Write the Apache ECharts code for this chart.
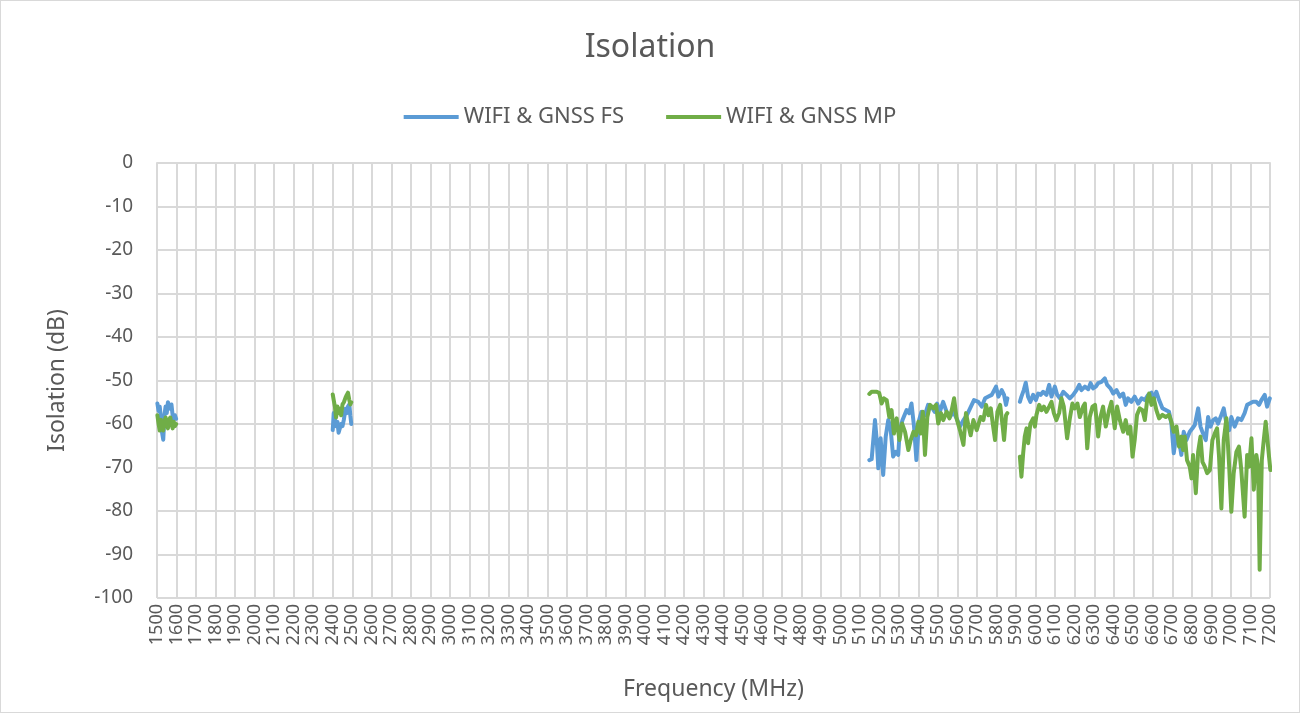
<!DOCTYPE html>
<html>
<head>
<meta charset="utf-8">
<script src="https://cdn.jsdelivr.net/npm/echarts@6/dist/echarts.min.js"></script>
<style>
  html, body { margin: 0; padding: 0; background: #fff; }
  #chart { width: 1298px; height: 711px; border: 1px solid #d9d9d9; }
</style>
</head>
<body>
<div id="chart"></div>
<script>
  // frequency (MHz) / isolation (dB), null = gap between measured bands
  const freqFS = [
    1502, 1508, 1514, 1520, 1526, 1532, 1538, 1544, 1550, 1556, 1562, 1568, 1574, 1580, 1586, 1592, 1598, 2000,
    2400, 2405, 2411, 2417, 2424, 2430, 2437, 2443, 2450, 2457, 2465, 2472, 2478, 2485, 2490, 2495, 3500,
    5148, 5160, 5177, 5186, 5194, 5206, 5219, 5232, 5245, 5256, 5270, 5284, 5296, 5304, 5318, 5339, 5352, 5364,
    5377, 5389, 5403, 5415, 5432, 5449, 5466, 5483, 5495, 5509, 5526, 5544, 5561, 5578, 5595, 5612, 5630, 5647,
    5664, 5684, 5706, 5724, 5741, 5758, 5775, 5797, 5809, 5826, 5838, 5848, 5855, 5890,
    5919, 5927, 5939, 5949, 5961, 5973, 5987, 6001, 6013, 6025, 6038, 6055, 6069, 6081, 6098, 6110, 6124, 6141,
    6158, 6175, 6192, 6209, 6223, 6234, 6252, 6269, 6281, 6294, 6308, 6320, 6337, 6354, 6366, 6383, 6397, 6414,
    6431, 6448, 6461, 6473, 6490, 6507, 6525, 6542, 6559, 6576, 6593, 6605, 6618, 6632, 6649, 6666, 6683, 6695,
    6707, 6721, 6734, 6746, 6758, 6772, 6789, 6803, 6815, 6832, 6844, 6857, 6871, 6883, 6895, 6909, 6922, 6934,
    6951, 6963, 6977, 6991, 7002, 7019, 7036, 7053, 7070, 7083, 7096, 7113, 7130, 7144, 7156, 7173, 7185, 7199
  ];
  const valFS = [
    -55.3, -57, -56, -58.5, -62, -63.6, -58, -56, -57.5, -55, -54.8, -56.5, -55.5, -58, -59, -58, -58.8, null,
    -61.4, -57.5, -59, -60.5, -59.5, -62, -62.4, -60, -60.5, -59, -56.5, -57.5, -56, -55.5, -58, -60, null,
    -68.3, -68.1, -59.1, -63.7, -70.2, -63.3, -71.7, -62.9, -59.1, -60.6, -67.5, -66.4, -67.1, -61.4, -59.1, -56.8, -57.5, -55.3,
    -60.6, -68.3, -59.1, -57.2, -58, -55.6, -56, -57.2, -55.3, -57.2, -54.9, -57.2, -58.4, -57.2, -58.7, -60.6, -59.1, -58,
    -56.4, -54.5, -54.9, -56, -54.1, -53.7, -53.3, -51.4, -53.7, -52.2, -53.3, -55.6, -54.1, null,
    -54.9, -53.7, -52.2, -50.5, -53.7, -54.9, -53.3, -54.5, -53, -53.3, -52.6, -53.3, -51, -53.7, -51.4, -53.3, -54.1, -52.6,
    -53.3, -54.1, -53.3, -52.2, -51, -52.2, -51.4, -52, -50.6, -51.8, -51.4, -50.6, -50.3, -49.5, -51, -51.8, -53, -52.2,
    -53.7, -53, -55.6, -54.1, -54.9, -53.7, -55.3, -54.1, -54.5, -53.3, -52.8, -54.1, -52.6, -54.5, -56.4, -56.8, -57.2, -59.9,
    -66.7, -62.2, -63.7, -67.1, -61.8, -63.7, -61.8, -61, -60.2, -56.4, -60.6, -62.2, -63.7, -58.4, -60.6, -59.1, -58.7, -59.9,
    -57.9, -56.4, -59.9, -61.4, -58.4, -60.6, -58.7, -59.1, -57.5, -55.6, -55.3, -54.9, -54.9, -55.6, -54.5, -53.3, -56, -54.1
  ];

  const freqMP = [
    1502, 1508, 1514, 1520, 1526, 1532, 1538, 1544, 1550, 1556, 1562, 1568, 1574, 1580, 1586, 1592, 1598, 2000,
    2400, 2405, 2411, 2417, 2424, 2430, 2437, 2443, 2450, 2457, 2465, 2472, 2478, 2485, 2490, 2495, 3500,
    5148, 5160, 5186, 5199, 5211, 5223, 5237, 5250, 5262, 5274, 5288, 5302, 5316, 5331, 5348, 5360, 5374, 5387,
    5399, 5411, 5422, 5433, 5445, 5459, 5476, 5490, 5501, 5515, 5527, 5544, 5558, 5570, 5582, 5595, 5612, 5630,
    5643, 5655, 5667, 5681, 5698, 5718, 5732, 5746, 5758, 5770, 5780, 5792, 5804, 5818, 5831, 5838, 5848, 5855, 5890,
    5919, 5927, 5936, 5944, 5953, 5961, 5973, 5987, 5996, 6004, 6018, 6030, 6042, 6055, 6069, 6081, 6093, 6106,
    6120, 6132, 6144, 6161, 6175, 6188, 6200, 6214, 6226, 6243, 6252, 6264, 6277, 6291, 6304, 6320, 6332, 6345,
    6359, 6376, 6388, 6405, 6417, 6431, 6448, 6461, 6473, 6485, 6496, 6507, 6519, 6533, 6547, 6559, 6571, 6581,
    6593, 6605, 6618, 6632, 6649, 6666, 6683, 6695, 6707, 6721, 6734, 6746, 6755, 6764, 6775, 6789, 6798, 6806,
    6820, 6832, 6844, 6854, 6866, 6878, 6892, 6905, 6917, 6929, 6939, 6951, 6963, 6977, 6991, 7002, 7014, 7028,
    7041, 7053, 7070, 7083, 7093, 7105, 7117, 7130, 7139, 7147, 7158, 7168, 7178, 7187, 7195, 7202
  ];
  const valMP = [
    -58, -60, -61.5, -59, -60.5, -61.5, -59.5, -58.5, -60, -61, -59, -58.5, -60, -61, -59.5, -60.5, -60, null,
    -53.2, -54.5, -56, -58.5, -56, -57.5, -56.5, -58, -55.5, -55, -54, -53.3, -52.8, -54.5, -55.5, -55, null,
    -53.1, -52.6, -52.6, -52.9, -55.3, -54.1, -54.5, -58.4, -56.8, -62.2, -58.7, -63.7, -59.9, -61.8, -66, -63.7, -61.8, -62.6,
    -59.5, -62.2, -57.2, -67.1, -58.4, -55.6, -56.4, -55.6, -59.9, -57.5, -59.1, -57.2, -58.7, -56.8, -54.1, -58.7, -61.4, -64.8,
    -57.5, -60.2, -62.6, -59.1, -61.4, -58.4, -59.1, -55.6, -58, -56.4, -59.9, -63.7, -57.2, -55.6, -60.6, -63.7, -58, -57.5, null,
    -67.5, -72.1, -66.7, -62.9, -61, -64.4, -59.9, -58.7, -60.6, -57.9, -55.6, -56.8, -56, -57.2, -56, -54.9, -57.5, -59.1,
    -57.5, -54.1, -56, -63.3, -58.7, -55.3, -56.4, -55.3, -58.4, -56, -55.3, -65.6, -58.4, -56, -55.6, -62.9, -58.4, -56,
    -60.6, -56.8, -54.9, -61, -56, -59.1, -61.8, -59.1, -62.2, -60.6, -67.5, -63.7, -57.9, -56.4, -56.8, -59.1, -54.5, -53,
    -55.6, -54.1, -56.8, -58.7, -57.9, -58.4, -57.9, -59.5, -61.8, -60.6, -65.2, -62.9, -66, -62.9, -68.3, -69.8, -72.5, -67.1,
    -75.9, -66.4, -62.9, -68.7, -69.8, -71.3, -70.6, -63.7, -62.2, -61, -67.5, -79.4, -63.7, -58.7, -69.8, -80.2, -71.3, -66.4,
    -65.2, -70.6, -81.3, -67.1, -69.8, -63.3, -75.1, -67.1, -69.8, -93.5, -68.3, -63.7, -59.5, -63.7, -67.5, -70.6
  ];

  const seriesNames = ['WIFI & GNSS FS', 'WIFI & GNSS MP'];

  function pairs(xs, ys) {
    return xs.map((x, i) => [x, ys[i] === null ? '-' : ys[i]]);
  }

  const chart = echarts.init(document.getElementById('chart'));
  const textColor = '#595959';
  const fontFam = '"Noto Sans", "Noto Sans CJK SC", sans-serif';

  const option = {
    animation: false,
    textStyle: { fontFamily: fontFam },
    title: {
      text: 'Isolation',
      left: 'center',
      top: 26,
      textStyle: { fontSize: 32, fontWeight: 'normal', color: textColor, fontFamily: fontFam }
    },
    legend: {
      data: seriesNames,
      top: 100,
      left: 'center',
      itemWidth: 55,
      itemHeight: 4,
      itemGap: 42,
      icon: 'rect',
      textStyle: { fontSize: 22, color: textColor, fontFamily: fontFam }
    },
    grid: { left: 156, right: 29, top: 162, bottom: 114 },
    xAxis: {
      type: 'value',
      min: 1500,
      max: 7200,
      interval: 100,
      name: 'Frequency (MHz)',
      nameLocation: 'middle',
      nameGap: 80,
      nameTextStyle: { fontSize: 23, color: textColor },
      axisLine: { show: true, lineStyle: { color: '#d9d9d9', width: 2 } },
      axisTick: { show: false },
      axisLabel: {
        rotate: 90, fontSize: 18, color: textColor, margin: 6,
        formatter: function (v) { return String(v); }
      },
      splitLine: { show: true, lineStyle: { color: '#d9d9d9', width: 2 } }
    },
    yAxis: {
      type: 'value',
      min: -100,
      max: 0,
      interval: 10,
      name: 'Isolation (dB)',
      nameLocation: 'middle',
      nameGap: 88,
      nameTextStyle: { fontSize: 23, color: textColor },
      axisLine: { show: false },
      axisTick: { show: false },
      axisLabel: { fontSize: 19, color: textColor, margin: 24 },
      splitLine: { show: true, lineStyle: { color: '#d9d9d9', width: 2 } }
    },
    series: [
      {
        name: seriesNames[0],
        type: 'line',
        showSymbol: false,
        symbol: 'none',
        color: '#5b9bd5',
        lineStyle: { width: 4, join: 'round', cap: 'round' },
        data: pairs(freqFS, valFS)
      },
      {
        name: seriesNames[1],
        type: 'line',
        showSymbol: false,
        symbol: 'none',
        color: '#70ad47',
        lineStyle: { width: 4, join: 'round', cap: 'round' },
        data: pairs(freqMP, valMP)
      }
    ]
  };

  chart.setOption(option);
  window.addEventListener('resize', function () {
    chart.resize();
  });
</script>
</body>
</html>
